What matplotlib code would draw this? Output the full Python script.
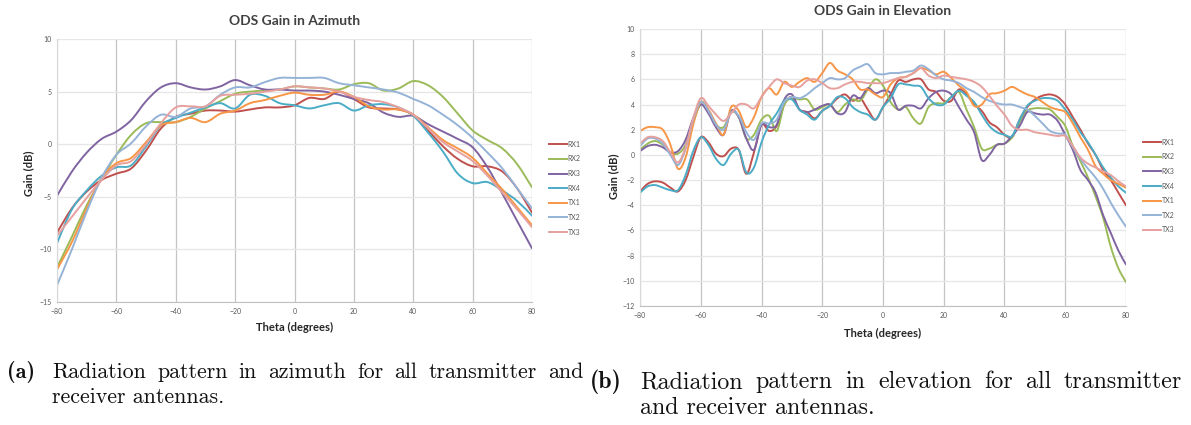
import numpy as np
import matplotlib
matplotlib.use("Agg")
import matplotlib.pyplot as plt
from matplotlib.path import Path
from matplotlib.patches import PathPatch
from matplotlib.lines import Line2D

# ---- data ----
series_names = ["RX1", "RX2", "RX3", "RX4", "TX1", "TX2", "TX3"]
colors = ["#C0504D", "#9BBB59", "#8064A2", "#4BACC6", "#F79646", "#95B3D7", "#E6A09E"]

theta_az = np.arange(-80, 81, 5)
az_rx1 = [-8.4, -6.1, -4.5, -3.4, -2.8, -2.3, -0.6, 1.5, 2.6, 2.9, 3.2, 3.2, 3.1, 3.3, 3.5, 3.5, 3.7,
          4.4, 4.3, 5.0, 4.3, 3.5, 3.4, 3.3, 2.8, 1.3, -0.2, -1.4, -2.1, -2.1, -2.6, -4.2, -6.5]
az_rx2 = [-11.7, -8.8, -5.8, -3.3, -1.0, 0.9, 2.0, 2.1, 2.1, 2.6, 3.4, 4.1, 4.8, 5.0, 5.1, 5.2, 5.5,
          5.4, 5.3, 5.2, 5.7, 5.8, 5.1, 5.3, 6.0, 5.6, 4.5, 2.9, 1.3, 0.4, -0.4, -1.9, -4.1]
az_rx3 = [-4.9, -2.6, -0.8, 0.5, 1.2, 2.3, 4.1, 5.4, 5.8, 5.4, 5.2, 5.5, 6.1, 5.6, 5.2, 5.2, 5.1,
          5.1, 5.0, 4.7, 4.3, 3.9, 3.0, 2.6, 2.7, 1.9, 1.2, 0.5, -0.3, -2.2, -4.7, -7.3, -9.9]
az_rx4 = [-9.4, -6.2, -4.4, -3.0, -2.2, -2.0, -0.2, 1.8, 2.5, 3.0, 3.5, 3.9, 3.4, 4.7, 4.6, 3.9, 3.7,
          3.4, 3.7, 3.9, 3.2, 3.7, 3.8, 3.5, 2.7, 1.1, -0.7, -2.8, -3.7, -3.6, -4.4, -5.4, -6.8]
az_tx1 = [-11.9, -9.3, -6.1, -3.2, -1.8, -1.3, 0.2, 1.8, 2.1, 2.5, 2.1, 2.9, 3.2, 3.9, 4.2, 4.6, 4.9,
          4.7, 4.7, 5.0, 4.5, 3.6, 3.3, 3.3, 2.8, 1.6, 0.4, -0.4, -1.3, -2.8, -4.3, -6.0, -7.7]
az_tx2 = [-13.4, -10.0, -6.4, -3.2, -1.0, 0.1, 1.7, 2.8, 2.6, 3.4, 3.6, 4.7, 5.4, 5.4, 5.9, 6.3, 6.3,
          6.3, 6.3, 5.8, 5.6, 5.4, 5.2, 4.9, 4.3, 3.7, 2.8, 1.8, 0.6, -0.8, -2.3, -4.2, -6.1]
az_tx3 = [-8.7, -6.9, -5.1, -3.4, -2.0, -1.6, 0.0, 2.0, 3.5, 3.6, 3.6, 4.6, 4.7, 4.8, 5.0, 5.2, 5.5,
          5.4, 5.3, 5.0, 4.5, 4.2, 4.0, 3.5, 2.8, 1.5, 0.2, -0.7, -1.6, -3.0, -4.6, -6.2, -7.9]

theta_el = np.arange(-80, 80.1, 2.5)
el_rx1 = [-2.9, -2.3, -2.1, -2.2, -2.6, -2.9, -2.0, -0.2, 1.4, 1.0, 0.1, -0.1, 0.5, 0.4, -1.5, 0.2,
          2.4, 1.9, 2.3, 4.0, 4.6, 3.6, 3.4, 2.9, 3.5, 3.9, 4.5, 4.8, 4.3, 4.5, 3.6, 2.8, 3.8, 4.8,
          5.9, 5.8, 6.0, 6.0, 5.2, 5.0, 4.3, 4.3, 5.2, 4.8, 4.0, 3.5, 2.6, 2.2, 1.6, 1.4, 2.8, 3.8,
          4.4, 4.7, 4.8, 4.6, 4.0, 3.0, 2.0, 0.9, 0.0, -1.2, -2.0, -3.0, -4.0]
el_rx2 = [0.4, 0.9, 1.1, 0.8, 0.2, 0.1, 0.8, 2.6, 4.0, 3.4, 2.4, 2.2, 3.4, 3.0, 1.3, 1.6,
          2.8, 3.1, 1.9, 4.0, 4.5, 4.4, 4.4, 3.6, 3.8, 4.0, 3.4, 4.0, 4.4, 4.3, 5.2, 6.0, 5.5, 4.2,
          3.6, 3.8, 2.9, 2.5, 3.8, 4.1, 4.1, 4.6, 5.0, 3.6, 2.2, 0.5, 0.5, 0.8, 0.9, 1.4, 2.6, 3.5,
          3.7, 3.7, 3.6, 3.0, 2.3, 0.7, -0.5, -1.8, -3.3, -5.0, -7.3, -9.0, -10.1]
el_rx3 = [0.3, 0.7, 0.8, 0.6, 0.2, 0.3, 1.2, 2.9, 4.0, 3.3, 2.2, 1.6, 3.5, 3.0, 1.3, 0.4,
          2.4, 2.2, 2.4, 4.4, 4.8, 3.6, 3.4, 3.6, 3.9, 4.0, 3.3, 3.4, 4.7, 4.5, 5.3, 4.9, 5.1, 4.9,
          3.6, 3.9, 3.9, 3.7, 4.5, 5.0, 5.1, 4.8, 3.8, 2.8, 1.8, -0.4, 0.0, 0.8, 0.9, 1.5, 2.3, 3.4,
          3.3, 3.2, 3.2, 2.7, 1.6, 0.4, -1.2, -2.0, -3.0, -4.8, -6.2, -7.6, -8.7]
el_rx4 = [-3.0, -2.5, -2.4, -2.6, -2.8, -2.8, -1.6, 0.3, 1.4, 0.8, -0.3, -0.8, 0.1, 0.4, -1.4, -1.0,
          1.0, 2.4, 3.3, 4.3, 4.4, 3.6, 3.2, 2.8, 3.5, 3.9, 4.6, 4.5, 3.8, 3.4, 3.2, 2.8, 3.8, 4.5,
          5.6, 5.6, 5.5, 5.4, 4.5, 4.0, 4.0, 4.6, 5.1, 4.7, 4.2, 3.2, 2.3, 1.8, 1.6, 1.5, 2.8, 3.9,
          4.3, 4.5, 4.5, 4.3, 3.6, 2.8, 1.8, 1.0, 0.0, -1.0, -1.8, -2.5, -3.0]
el_tx1 = [1.9, 2.2, 2.2, 2.0, 0.8, -1.1, -0.2, 2.4, 4.2, 3.6, 2.5, 1.6, 3.8, 3.5, 2.2, 3.0,
          4.6, 5.3, 4.8, 5.8, 5.4, 5.8, 6.1, 5.8, 6.5, 7.3, 6.7, 6.4, 6.0, 5.2, 5.2, 4.8, 4.6, 5.6,
          6.1, 6.2, 6.5, 6.9, 6.7, 6.4, 6.6, 6.1, 5.5, 5.0, 3.9, 4.0, 4.8, 4.9, 5.1, 5.4, 5.1, 4.8,
          4.6, 4.2, 3.8, 3.6, 3.4, 2.5, 1.4, 0.4, -0.9, -1.5, -2.0, -2.3, -2.6]
el_tx2 = [0.7, 1.3, 1.3, 0.9, 0.0, -0.8, 0.5, 2.8, 4.2, 3.5, 2.4, 2.0, 3.4, 3.1, 1.8, 1.2,
          2.5, 2.5, 2.8, 4.2, 4.6, 4.5, 4.8, 5.3, 5.7, 6.1, 6.0, 6.1, 6.7, 7.0, 7.2, 6.5, 6.4, 6.5,
          6.5, 6.6, 6.7, 7.1, 6.8, 6.3, 6.0, 5.9, 5.7, 5.3, 5.0, 4.6, 4.3, 4.1, 4.0, 4.0, 3.8, 3.6,
          3.1, 2.5, 1.9, 1.7, 1.6, 0.6, -0.3, -1.1, -1.8, -2.7, -3.8, -4.8, -5.7]
el_tx3 = [0.9, 1.4, 1.4, 1.1, 0.2, -0.6, 0.6, 2.9, 4.5, 3.9, 3.2, 2.7, 3.3, 4.0, 4.0, 3.7,
          4.6, 5.4, 6.0, 5.7, 5.5, 5.4, 5.9, 6.0, 5.7, 5.3, 5.3, 5.6, 5.8, 5.8, 5.7, 5.7, 5.7, 5.9,
          6.1, 6.2, 6.5, 6.9, 6.3, 6.1, 6.3, 6.2, 6.1, 6.0, 5.8, 5.4, 4.7, 3.9, 3.2, 2.3, 2.0, 2.0,
          1.8, 1.7, 1.6, 1.5, 1.5, 0.7, -0.2, -0.7, -1.0, -1.3, -1.6, -2.1, -2.5]

az_data = [az_rx1, az_rx2, az_rx3, az_rx4, az_tx1, az_tx2, az_tx3]
el_data = [el_rx1, el_rx2, el_rx3, el_rx4, el_tx1, el_tx2, el_tx3]


def smooth_path(x, y):
    # excel style smoothed line: bezier segments through the points
    x = np.asarray(x, float)
    y = np.asarray(y, float)
    n = len(x)
    verts = [(x[0], y[0])]
    codes = [Path.MOVETO]
    for i in range(n - 1):
        a = max(i - 1, 0)
        d = min(i + 2, n - 1)
        c1 = (x[i] + (x[i + 1] - x[a]) / 6, y[i] + (y[i + 1] - y[a]) / 6)
        c2 = (x[i + 1] - (x[d] - x[i]) / 6, y[i + 1] - (y[d] - y[i]) / 6)
        verts += [c1, c2, (x[i + 1], y[i + 1])]
        codes += [Path.CURVE4] * 3
    return Path(verts, codes)


def draw_chart(ax, theta, data, title, yticks):
    for vals, c in zip(data, colors):
        ax.add_patch(PathPatch(smooth_path(theta, vals), fill=False, edgecolor=c, lw=1.4,
                               capstyle="round", joinstyle="round"))
    ax.set_xlim(-80, 80)
    ax.set_ylim(yticks[0], yticks[-1])
    ax.set_xticks(np.arange(-80, 81, 20))
    ax.set_yticks(yticks)
    ax.xaxis.grid(True, color="#c4c4c4", lw=0.9)
    ax.yaxis.grid(True, color="#e6e6e6", lw=0.9)
    ax.set_axisbelow(True)
    for s in ["top", "right"]:
        ax.spines[s].set_visible(False)
    ax.spines["left"].set_color("#d9d9d9")
    ax.spines["bottom"].set_color("#bfbfbf")
    ax.tick_params(axis="both", labelsize=5, colors="#595959", length=0, pad=4)
    ax.set_title(title, fontsize=10, fontweight="bold", color="#404040", pad=10)
    ax.set_xlabel("Theta (degrees)", fontsize=8, fontweight="bold", color="#262626")
    ax.set_ylabel("Gain (dB)", fontsize=8, fontweight="bold", color="#262626")
    handles = [Line2D([], [], color=c, lw=1.4) for c in colors]
    ax.legend(handles, series_names, loc="center left", bbox_to_anchor=(1.035, 0.433),
              frameon=False, fontsize=5, handlelength=2.6, handletextpad=0.1,
              labelspacing=1.1, borderpad=0, borderaxespad=0, labelcolor="#595959")


def justified_line(fig, text, x0, x1, y, **kw):
    # spread the words of one caption line between x0 and x1 (pixels)
    words = text.split()
    r = fig.canvas.get_renderer()
    objs = [fig.text(0, y, w, **kw) for w in words]
    widths = [o.get_window_extent(r).width for o in objs]
    gap = (x1 - x0 - sum(widths)) / (len(words) - 1)
    x = x0
    for o, w in zip(objs, widths):
        o.set_x(x / fig.bbox.width)
        x += w + gap


plt.rcParams["font.family"] = ["Lato", "DejaVu Sans"]

fig = plt.figure(figsize=(11.91, 4.25), dpi=100)
ax1 = fig.add_axes([0.0479, 0.2894, 0.3988, 0.6188])
ax2 = fig.add_axes([0.5374, 0.2800, 0.4080, 0.6518])

draw_chart(ax1, theta_az, az_data, "ODS Gain in Azimuth", np.arange(-15, 11, 5))
draw_chart(ax2, theta_el, el_data, "ODS Gain in Elevation", np.arange(-12, 11, 2))

ax1.xaxis.set_label_coords(0.5, -0.076)
ax1.yaxis.set_label_coords(-0.048, 0.49)
ax2.xaxis.set_label_coords(0.5, -0.079)
ax2.yaxis.set_label_coords(-0.042, 0.47)

# captions
W, H = 1191.0, 425.0
cap_a = dict(fontsize=15.8, va="center", color="#111111")
cap_b = dict(fontsize=17.2, va="center", color="#111111")
fig.text(7 / W, 1 - 372 / H, "(a)", family="cmb10", **cap_a)
justified_line(fig, "Radiation pattern in azimuth for all transmitter and", 52, 583, 1 - 372 / H,
               family="cmr10", **cap_a)
fig.text(52 / W, 1 - 397 / H, "receiver antennas.", family="cmr10", **cap_a)
fig.text(590 / W, 1 - 382 / H, "(b)", family="cmb10", **cap_b)
justified_line(fig, "Radiation pattern in elevation for all transmitter", 640, 1182, 1 - 382 / H,
               family="cmr10", **cap_b)
fig.text(640 / W, 1 - 408 / H, "and receiver antennas.", family="cmr10", **cap_b)

fig.savefig("out.png", dpi=100)
